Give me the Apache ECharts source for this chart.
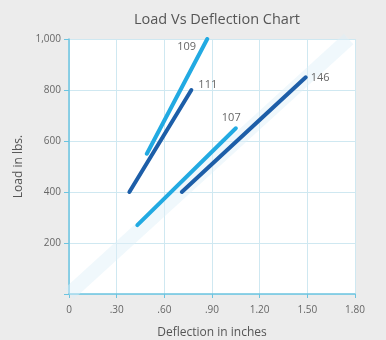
<!DOCTYPE html>
<html><head><meta charset="utf-8">
<script src="https://cdn.jsdelivr.net/npm/echarts@6/dist/echarts.min.js"></script>
<style>html,body{margin:0;padding:0;background:#ececec}#c{width:386px;height:340px}</style>
</head><body><div id="c"></div>
<script>
var xTicks = [0, 0.3, 0.6, 0.9, 1.2, 1.5, 1.8];
var yTicks = [0, 200, 400, 600, 800, 1000];
var names = ['109', '111', '107', '146'];
var colors = ['#22aae2', '#1d5ea8', '#22aae2', '#1d5ea8'];
var s109 = [[0.49, 550], [0.87, 1000]];
var s111 = [[0.38, 400], [0.77, 800]];
var s107 = [[0.43, 270], [1.05, 650]];
var s146 = [[0.71, 400], [1.49, 850]];
var band = [[0, 0], [1.76, 1000]];

var seriesData = [s109, s111, s107, s146];
var labelOffsets = [[-38, 8], [-1, -5], [-22, -10], [-3, 1]];
var chart = echarts.init(document.getElementById('c'));
function fmtX(v){ if (v === 0) return '0'; var s = v.toFixed(2); return s.charAt(0) === '0' ? s.slice(1) : s; }
var series = [{
  type: 'line', data: band, symbol: 'none', silent: true, z: 1,
  lineStyle: { width: 14, color: 'rgba(222,240,249,0.45)', cap: 'butt' }
}];
seriesData.forEach(function(d, i){
  series.push({
    type: 'line', name: names[i], data: d, symbol: 'none', z: 3,
    lineStyle: { width: 4, color: colors[i], cap: 'round' },
    endLabel: { show: true, formatter: names[i], color: '#666', fontSize: 11, fontFamily: 'Open Sans',
      offset: labelOffsets[i] }
  });
});
chart.setOption({
  backgroundColor: '#ececec',
  animation: false,
  title: { text: 'Load Vs Deflection Chart', left: 129, top: 7,
    textStyle: { fontSize: 14.5, fontWeight: 'normal', color: '#555', fontFamily: 'Open Sans' } },
  grid: { left: 69, right: 31, top: 39, bottom: 46, show: true, backgroundColor: '#ffffff', borderWidth: 0,
    outerBoundsMode: 'none', containLabel: false },
  xAxis: { type: 'value', min: 0, max: 1.8, interval: 0.3,
    name: 'Deflection in inches', nameLocation: 'middle', nameGap: 33,
    nameTextStyle: { fontSize: 12, color: '#555', fontFamily: 'Open Sans' },
    axisLine: { lineStyle: { color: '#6cc4e0', width: 1.5 } },
    axisTick: { show: true, length: 4, lineStyle: { color: '#6cc4e0' } },
    axisLabel: { fontSize: 10, color: '#666', fontFamily: 'Open Sans', margin: 11, formatter: fmtX },
    splitLine: { lineStyle: { color: '#cfe8f1' } } },
  yAxis: { type: 'value', min: 0, max: 1000, interval: 200,
    name: 'Load in lbs.', nameLocation: 'middle', nameGap: 44,
    nameTextStyle: { fontSize: 12, color: '#555', fontFamily: 'Open Sans' },
    axisLine: { show: true, lineStyle: { color: '#6cc4e0', width: 1.5 } },
    axisTick: { show: true, length: 5, lineStyle: { color: '#6cc4e0' } },
    axisLabel: { fontSize: 10, color: '#666', fontFamily: 'Open Sans', margin: 8,
      formatter: function(v){ return v === 0 ? '' : v.toLocaleString('en-US'); } },
    splitLine: { lineStyle: { color: '#cfe8f1' } } },
  series: series
});
</script></body></html>
